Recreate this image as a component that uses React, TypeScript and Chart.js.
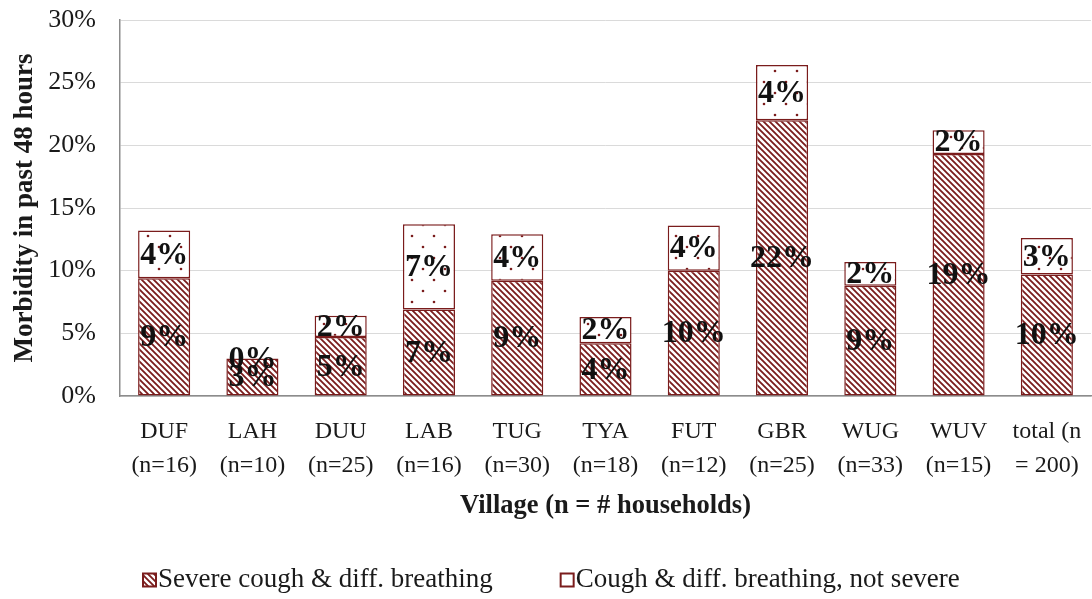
import { useEffect, useRef } from "react";
import { Chart, registerables } from "chart.js";
Chart.register(...registerables);

// ---- data ----
const villages = ["DUF", "LAH", "DUU", "LAB", "TUG", "TYA", "FUT", "GBR", "WUG", "WUV", "total (n"];
const households = ["(n=16)", "(n=10)", "(n=25)", "(n=16)", "(n=30)", "(n=18)", "(n=12)", "(n=25)", "(n=33)", "(n=15)", "= 200)"];
const severe = [9.4, 3.0, 4.7, 6.9, 9.2, 4.2, 10.0, 22.0, 8.8, 19.3, 9.7];
const notSevere = [3.8, 0.0, 1.7, 6.8, 3.7, 2.1, 3.6, 4.4, 1.9, 1.9, 2.9];
const seriesNames = ["Severe cough & diff. breathing", "Cough & diff. breathing, not severe"];
const yTicks = [0, 5, 10, 15, 20, 25, 30];

const RED = "#7a1c1c";
const SERIF = '"Liberation Serif", "Times New Roman", serif';
const TEXT = "#1a1a1a";

function makeHatch(): CanvasPattern | string {
  const c = document.createElement("canvas");
  c.width = 6;
  c.height = 6;
  const g = c.getContext("2d")!;
  g.fillStyle = "#ffffff";
  g.fillRect(0, 0, 6, 6);
  g.strokeStyle = RED;
  g.lineWidth = 1.8;
  g.beginPath();
  g.moveTo(-1, -1);
  g.lineTo(7, 7);
  g.moveTo(-1, 5);
  g.lineTo(1, 7);
  g.moveTo(5, -1);
  g.lineTo(7, 1);
  g.stroke();
  return g.createPattern(c, "repeat") || RED;
}

function makeDots(): CanvasPattern | string {
  const c = document.createElement("canvas");
  c.width = 22;
  c.height = 22;
  const g = c.getContext("2d")!;
  g.fillStyle = "#ffffff";
  g.fillRect(0, 0, 22, 22);
  g.fillStyle = RED;
  for (const [px, py] of [[5, 5], [16, 16]]) {
    g.beginPath();
    g.arc(px, py, 1.3, 0, Math.PI * 2);
    g.fill();
  }
  return g.createPattern(c, "repeat") || "#fff";
}

const segLabels = {
  id: "segLabels",
  afterDatasetsDraw(chart: any) {
    const ctx = chart.ctx;
    ctx.save();
    ctx.font = `bold 32px ${SERIF}`;
    ctx.fillStyle = "#111";
    ctx.textAlign = "center";
    ctx.textBaseline = "middle";
    chart.data.datasets.forEach((ds: any, di: number) => {
      const meta = chart.getDatasetMeta(di);
      meta.data.forEach((el: any, i: number) => {
        const v = ds.data[i];
        const { x, y, base } = el.getProps(["x", "y", "base"], true);
        ctx.fillText(Math.round(v) + "%", x, (y + base) / 2 + 1);
      });
    });
    ctx.restore();
  },
};

const customLegend = {
  id: "customLegend",
  afterDraw(chart: any) {
    const ctx = chart.ctx;
    ctx.save();
    ctx.font = `27px ${SERIF}`;
    const box = 13;
    const gap = 2;
    const spacing = 68;
    let x = 143;
    const cy = 580;
    chart.data.datasets.forEach((ds: any) => {
      ctx.fillStyle = ds.backgroundColor;
      ctx.fillRect(x, cy - box / 2, box, box);
      ctx.strokeStyle = RED;
      ctx.lineWidth = 2;
      ctx.strokeRect(x, cy - box / 2, box, box);
      ctx.fillStyle = TEXT;
      ctx.textAlign = "left";
      ctx.textBaseline = "middle";
      ctx.fillText(ds.label, x + box + gap, cy);
      x += box + gap + ctx.measureText(ds.label).width + spacing;
    });
    ctx.restore();
  },
};

export default function App() {
  const ref = useRef<HTMLCanvasElement>(null);
  useEffect(() => {
    if (!ref.current) return;
    const hatch = makeHatch();
    const dots = makeDots();
    const chart = new Chart(ref.current, {
      type: "bar",
      data: {
        labels: villages.map((v, i) => [v, households[i]]),
        datasets: [
          {
            label: seriesNames[0],
            data: severe,
            backgroundColor: hatch as any,
            borderColor: RED,
            borderWidth: 1.5,
            borderSkipped: false,
          },
          {
            label: seriesNames[1],
            data: notSevere,
            backgroundColor: dots as any,
            borderColor: RED,
            borderWidth: 1.5,
            borderSkipped: false,
          },
        ],
      },
      options: {
        responsive: false,
        animation: false,
        layout: { padding: { top: 20, right: 1, bottom: 77, left: 0 } },
        datasets: { bar: { categoryPercentage: 1, barPercentage: 0.59 } },
        plugins: {
          legend: { display: false },
          tooltip: { enabled: false },
        },
        scales: {
          x: {
            stacked: true,
            offset: true,
            grid: { display: false, drawTicks: false },
            border: { color: "#8c8c8c", width: 1.5 },
            ticks: {
              color: TEXT,
              font: { family: SERIF, size: 24, lineHeight: 1.42 },
              padding: 19,
              maxRotation: 0,
              autoSkip: false,
            },
            title: {
              display: true,
              text: "Village (n = # households)",
              color: TEXT,
              font: { family: SERIF, size: 26.5, weight: "bold" },
              padding: { top: 0, bottom: 0 },
            },
            afterFit: (s: any) => {
              s.height = 126;
              s.paddingLeft = 0;
              s.paddingRight = 0;
            },
          },
          y: {
            stacked: true,
            min: 0,
            max: 30,
            afterBuildTicks: (s: any) => {
              s.ticks = yTicks.map((v) => ({ value: v }));
            },
            grid: { color: "#dadada", lineWidth: 1, drawTicks: false },
            border: { color: "#8c8c8c", width: 1.5 },
            ticks: {
              color: TEXT,
              font: { family: SERIF, size: 26 },
              padding: 24,
              callback: (v: any) => v + "%",
            },
            title: {
              display: true,
              text: "Morbidity in past 48 hours",
              color: TEXT,
              font: { family: SERIF, size: 27, weight: "bold" },
              padding: { top: 9, bottom: 0 },
            },
            afterFit: (s: any) => {
              s.width = 120;
              s.paddingTop = 0;
              s.paddingBottom = 0;
            },
          },
        },
      },
      plugins: [segLabels, customLegend],
    } as any);
    return () => chart.destroy();
  }, []);
  return (
    <div style={{ position: "absolute", left: 0, top: 0, width: 1092, height: 599, background: "#fff" }}>
      <canvas ref={ref} width={1092} height={599} style={{ display: "block" }} />
    </div>
  );
}
